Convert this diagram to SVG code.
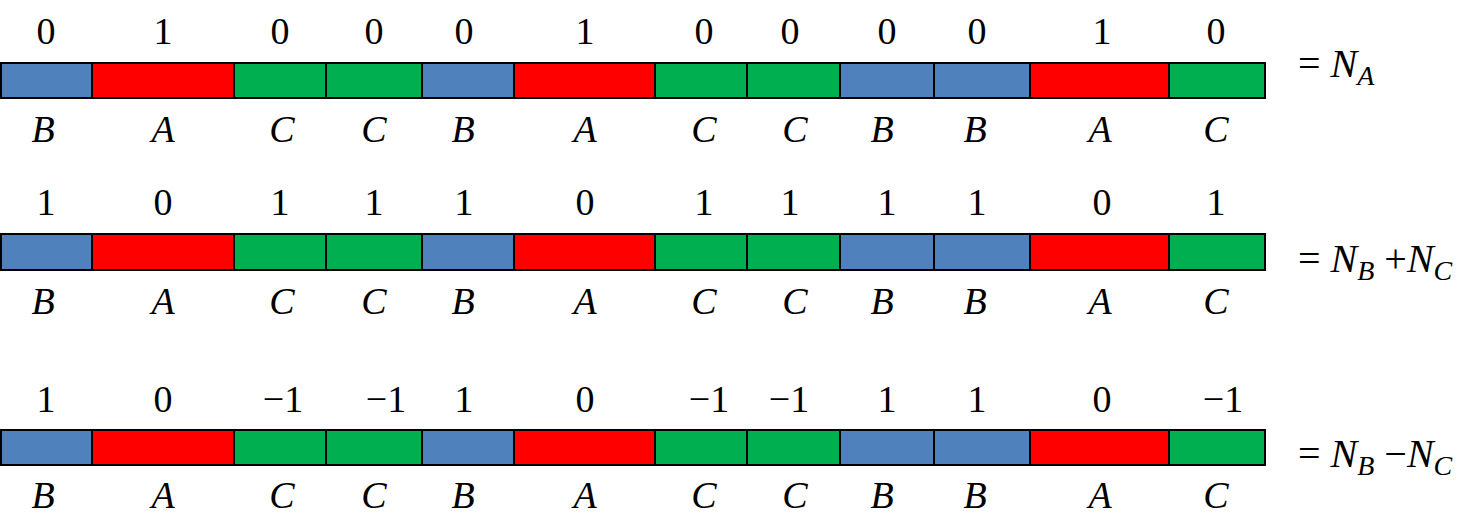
<svg xmlns="http://www.w3.org/2000/svg" width="1471" height="530" viewBox="0 0 1471 530" font-family="Liberation Serif, DejaVu Serif, serif">
<style>
.b{fill:#4F81BD;stroke:#000;stroke-width:2}
.a{fill:#FF0000;stroke:#000;stroke-width:2}
.c{fill:#00B050;stroke:#000;stroke-width:2}
.n{font-size:38px;text-anchor:middle}
.l{font-size:38px;font-style:italic;text-anchor:middle}
.eq{font-size:40px}
.it{font-style:italic}
.sub{font-size:28px;font-style:italic}
</style>
<rect width="1471" height="530" fill="#fff"/>
<g id="row1">
<g id="r1s1"><rect class="b" x="1" y="63" width="91" height="35"/><text class="n" x="46" y="44">0</text><text class="l" x="43" y="142">B</text></g>
<g id="r1s2"><rect class="a" x="92" y="63" width="142" height="35"/><text class="n" x="163" y="44">1</text><text class="l" x="163" y="142">A</text></g>
<g id="r1s3"><rect class="c" x="234" y="63" width="92" height="35"/><text class="n" x="280" y="44">0</text><text class="l" x="282" y="142">C</text></g>
<g id="r1s4"><rect class="c" x="326" y="63" width="96" height="35"/><text class="n" x="374" y="44">0</text><text class="l" x="374" y="142">C</text></g>
<g id="r1s5"><rect class="b" x="422" y="63" width="92" height="35"/><text class="n" x="464" y="44">0</text><text class="l" x="463" y="142">B</text></g>
<g id="r1s6"><rect class="a" x="514" y="63" width="141" height="35"/><text class="n" x="585" y="44">1</text><text class="l" x="585" y="142">A</text></g>
<g id="r1s7"><rect class="c" x="655" y="63" width="92" height="35"/><text class="n" x="704" y="44">0</text><text class="l" x="704" y="142">C</text></g>
<g id="r1s8"><rect class="c" x="747" y="63" width="93" height="35"/><text class="n" x="790" y="44">0</text><text class="l" x="795" y="142">C</text></g>
<g id="r1s9"><rect class="b" x="840" y="63" width="94" height="35"/><text class="n" x="887" y="44">0</text><text class="l" x="882" y="142">B</text></g>
<g id="r1s10"><rect class="b" x="934" y="63" width="96" height="35"/><text class="n" x="977" y="44">0</text><text class="l" x="975" y="142">B</text></g>
<g id="r1s11"><rect class="a" x="1030" y="63" width="139" height="35"/><text class="n" x="1102" y="44">1</text><text class="l" x="1100" y="142">A</text></g>
<g id="r1s12"><rect class="c" x="1169" y="63" width="96" height="35"/><text class="n" x="1216" y="44">0</text><text class="l" x="1216" y="142">C</text></g>
<text id="r1eq" class="eq" x="1298" y="77">= <tspan class="it">N</tspan><tspan class="sub" dy="8">A</tspan></text>
</g>
<g id="row2">
<g id="r2s1"><rect class="b" x="1" y="234" width="91" height="36"/><text class="n" x="46" y="215">1</text><text class="l" x="43" y="314">B</text></g>
<g id="r2s2"><rect class="a" x="92" y="234" width="142" height="36"/><text class="n" x="163" y="215">0</text><text class="l" x="163" y="314">A</text></g>
<g id="r2s3"><rect class="c" x="234" y="234" width="92" height="36"/><text class="n" x="280" y="215">1</text><text class="l" x="282" y="314">C</text></g>
<g id="r2s4"><rect class="c" x="326" y="234" width="96" height="36"/><text class="n" x="374" y="215">1</text><text class="l" x="374" y="314">C</text></g>
<g id="r2s5"><rect class="b" x="422" y="234" width="92" height="36"/><text class="n" x="464" y="215">1</text><text class="l" x="463" y="314">B</text></g>
<g id="r2s6"><rect class="a" x="514" y="234" width="141" height="36"/><text class="n" x="585" y="215">0</text><text class="l" x="585" y="314">A</text></g>
<g id="r2s7"><rect class="c" x="655" y="234" width="92" height="36"/><text class="n" x="704" y="215">1</text><text class="l" x="704" y="314">C</text></g>
<g id="r2s8"><rect class="c" x="747" y="234" width="93" height="36"/><text class="n" x="790" y="215">1</text><text class="l" x="795" y="314">C</text></g>
<g id="r2s9"><rect class="b" x="840" y="234" width="94" height="36"/><text class="n" x="887" y="215">1</text><text class="l" x="882" y="314">B</text></g>
<g id="r2s10"><rect class="b" x="934" y="234" width="96" height="36"/><text class="n" x="977" y="215">1</text><text class="l" x="975" y="314">B</text></g>
<g id="r2s11"><rect class="a" x="1030" y="234" width="139" height="36"/><text class="n" x="1102" y="215">0</text><text class="l" x="1100" y="314">A</text></g>
<g id="r2s12"><rect class="c" x="1169" y="234" width="96" height="36"/><text class="n" x="1216" y="215">1</text><text class="l" x="1216" y="314">C</text></g>
<text id="r2eq" class="eq" x="1298" y="272">= <tspan class="it">N</tspan><tspan class="sub" dy="8">B</tspan><tspan dy="-8"> +</tspan><tspan class="it">N</tspan><tspan class="sub" dy="8">C</tspan></text>
</g>
<g id="row3">
<g id="r3s1"><rect class="b" x="1" y="430" width="91" height="35"/><text class="n" x="46" y="412">1</text><text class="l" x="43" y="508">B</text></g>
<g id="r3s2"><rect class="a" x="92" y="430" width="142" height="35"/><text class="n" x="163" y="412">0</text><text class="l" x="163" y="508">A</text></g>
<g id="r3s3"><rect class="c" x="234" y="430" width="92" height="35"/><text class="n" x="283" y="412">−1</text><text class="l" x="282" y="508">C</text></g>
<g id="r3s4"><rect class="c" x="326" y="430" width="96" height="35"/><text class="n" x="386" y="412">−1</text><text class="l" x="374" y="508">C</text></g>
<g id="r3s5"><rect class="b" x="422" y="430" width="92" height="35"/><text class="n" x="464" y="412">1</text><text class="l" x="463" y="508">B</text></g>
<g id="r3s6"><rect class="a" x="514" y="430" width="141" height="35"/><text class="n" x="585" y="412">0</text><text class="l" x="585" y="508">A</text></g>
<g id="r3s7"><rect class="c" x="655" y="430" width="92" height="35"/><text class="n" x="709" y="412">−1</text><text class="l" x="704" y="508">C</text></g>
<g id="r3s8"><rect class="c" x="747" y="430" width="93" height="35"/><text class="n" x="789" y="412">−1</text><text class="l" x="795" y="508">C</text></g>
<g id="r3s9"><rect class="b" x="840" y="430" width="94" height="35"/><text class="n" x="887" y="412">1</text><text class="l" x="882" y="508">B</text></g>
<g id="r3s10"><rect class="b" x="934" y="430" width="96" height="35"/><text class="n" x="977" y="412">1</text><text class="l" x="975" y="508">B</text></g>
<g id="r3s11"><rect class="a" x="1030" y="430" width="139" height="35"/><text class="n" x="1102" y="412">0</text><text class="l" x="1100" y="508">A</text></g>
<g id="r3s12"><rect class="c" x="1169" y="430" width="96" height="35"/><text class="n" x="1223" y="412">−1</text><text class="l" x="1216" y="508">C</text></g>
<text id="r3eq" class="eq" x="1298" y="467">= <tspan class="it">N</tspan><tspan class="sub" dy="8">B</tspan><tspan dy="-8"> −</tspan><tspan class="it">N</tspan><tspan class="sub" dy="8">C</tspan></text>
</g>
<g id="connectors"></g>
</svg>
